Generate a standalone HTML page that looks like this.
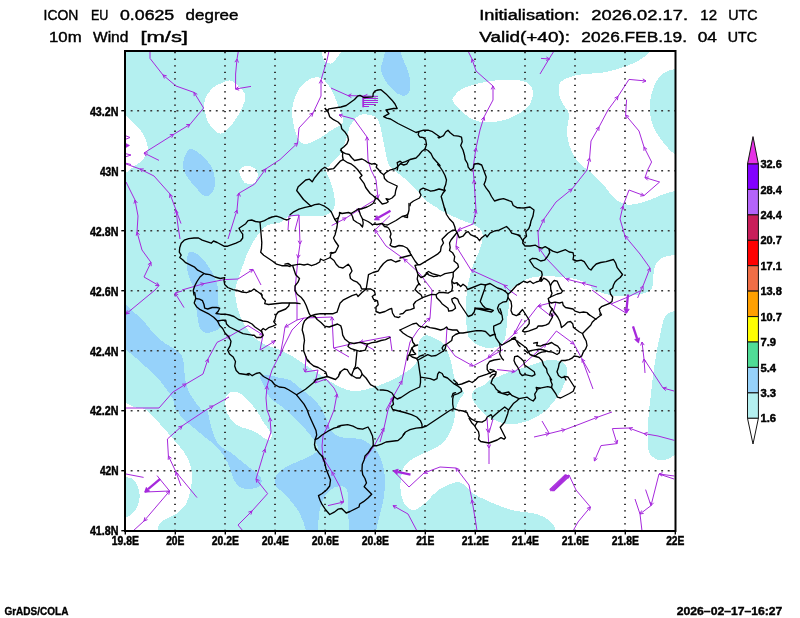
<!DOCTYPE html>
<html><head><meta charset="utf-8"><title>ICON EU 10m Wind</title>
<style>html,body{margin:0;padding:0;background:#fff;}svg{display:block;will-change:transform;opacity:0.999;}text{font-family:"Liberation Sans",sans-serif;fill:#000;}.t{font-size:14px;stroke:#000;stroke-width:0.4px;}.b{font-weight:bold;font-size:12px;stroke:#000;stroke-width:0.45px;}</style></head><body>
<svg width="800" height="618" viewBox="0 0 800 618">
<rect x="0" y="0" width="800" height="618" fill="#fff"/>
<defs><clipPath id="fr"><rect x="125" y="51" width="550.5" height="480"/></clipPath></defs>
<g clip-path="url(#fr)" shape-rendering="crispEdges">
<rect x="125" y="51" width="550.5" height="480" fill="#b4f0f0"/>
<path d="M360,115C364,113.3 370.8,114.8 374,116C377.2,117.2 377.7,119 379,122C380.3,125 381,129.3 382,134C383,138.7 383.8,144.8 385,150C386.2,155.2 387.5,161.7 389,165C390.5,168.3 391.5,167.8 394,170C396.5,172.2 401,175.3 404,178C407,180.7 409.3,183.3 412,186C414.7,188.7 417.3,191.3 420,194C422.7,196.7 425.3,199.8 428,202C430.7,204.2 434,205.7 436,207C438,208.3 437.7,208.7 440,210C442.3,211.3 446,213.2 450,215C454,216.8 459.7,219.2 464,221C468.3,222.8 473,224.2 476,226C479,227.8 481,229.3 482,232C483,234.7 482.7,238.3 482,242C481.3,245.7 479.7,249.7 478,254C476.3,258.3 473.5,263.7 472,268C470.5,272.3 469.8,276.3 469,280C468.2,283.7 467.5,285 467,290C466.5,295 466,303.3 466,310C466,316.7 466.3,325.2 467,330C467.7,334.8 467.8,336.3 470,339C472.2,341.7 476.3,344.5 480,346C483.7,347.5 488.3,348.3 492,348C495.7,347.7 499.7,346.3 502,344C504.3,341.7 505.2,338 506,334C506.8,330 506.5,324.7 507,320C507.5,315.3 508.5,310.7 509,306C509.5,301.3 509,295.3 510,292C511,288.7 513,287.7 515,286C517,284.3 519.5,283.3 522,282C524.5,280.7 526.3,279 530,278C533.7,277 539,276.2 544,276C549,275.8 554.7,276.5 560,277C565.3,277.5 571.3,277.8 576,279C580.7,280.2 585,282.2 588,284C591,285.8 591,288.3 594,290C597,291.7 601.7,292.9 606,294C610.3,295.1 615,296.2 620,296.4C625,296.6 631.3,295.7 636,295C640.7,294.3 645.3,293.2 648,292C650.7,290.8 651.2,289.7 652,288C652.8,286.3 652.7,285 653,282C653.3,279 653.3,273.3 654,270C654.7,266.7 655.3,264.2 657,262C658.7,259.8 661,258.2 664,257C667,255.8 670.7,255.5 675,255C679.3,254.5 687.5,206.5 690,254C692.5,301.5 712.2,492.3 690,540C667.8,587.7 579.3,541.5 557,540C534.7,538.5 556.8,533.8 556,531C555.2,528.2 554,525.3 552,523C550,520.7 547.3,518.7 544,517C540.7,515.3 536.7,514 532,513C527.3,512 521.3,512.2 516,511C510.7,509.8 505,507.8 500,506C495,504.2 490.3,502 486,500C481.7,498 477.3,496.3 474,494C470.7,491.7 468.7,488 466,486C463.3,484 461,482.2 458,482C455,481.8 451,483.8 448,485C445,486.2 442.3,487.5 440,489C437.7,490.5 436.7,491.5 434,494C431.3,496.5 427.3,501.3 424,504C420.7,506.7 417,509.7 414,510C411,510.3 408.2,508.7 406,506C403.8,503.3 401.8,498.7 401,494C400.2,489.3 400.3,482.8 401,478C401.7,473.2 402.8,468.3 405,465C407.2,461.7 410.8,460 414,458C417.2,456 421.2,454.3 424.5,452.8C427.8,451.3 430.5,450.6 433.5,449C436.5,447.4 439.9,445.5 442.5,443C445.1,440.5 447.3,437.5 449.2,434C451.1,430.5 452.8,425.5 453.8,422C454.8,418.5 454.7,415.8 455.2,413C455.7,410.2 456,407.8 456.8,405.5C457.6,403.2 458.6,401.6 459.8,399.5C461,397.4 463.8,395.2 463.8,393C463.8,390.8 461.3,388.2 459.8,386C458.3,383.8 456.2,382.1 455,379.5C453.8,376.9 453.6,373.8 452.8,370.5C452.1,367.2 451.3,363 450.5,360C449.7,357 448.9,354.8 448,352.5C447.1,350.2 446.3,347.9 445,346C443.7,344.1 441.8,342.3 440,341C438.2,339.7 436.3,339 434,338C431.7,337 428.3,334.7 426,335C423.7,335.3 421.3,337.8 420,340C418.7,342.2 418.3,345 418,348C417.7,351 418.7,355 418,358C417.3,361 416,363.7 414,366C412,368.3 409.3,369.8 406,372C402.7,374.2 398.3,376.8 394,379C389.7,381.2 385,383.2 380,385C375,386.8 368.7,389 364,390C359.3,391 356,391.5 352,391C348,390.5 344,388.8 340,387C336,385.2 332,382.5 328,380C324,377.5 320,374.7 316,372C312,369.3 308,366.7 304,364C300,361.3 296,358.3 292,356C288,353.7 284.3,351.8 280,350C275.7,348.2 270,346.8 266,345C262,343.2 259,341.5 256,339C253,336.5 250.3,333.2 248,330C245.7,326.8 243.7,323.3 242,320C240.3,316.7 239,313.3 238,310C237,306.7 236.5,303.3 236,300C235.5,296.7 234.7,293.3 235,290C235.3,286.7 236.8,283.7 238,280C239.2,276.3 240.5,272.3 242,268C243.5,263.7 245.2,258.3 247,254C248.8,249.7 250.8,245.7 253,242C255.2,238.3 257.5,234.8 260,232C262.5,229.2 264.7,226.6 268,225C271.3,223.4 276.7,223.7 280,222.4C283.3,221.1 284.7,218 288,217C291.3,216 294.7,216.6 300,216.4C305.3,216.2 315.3,216.4 320,216C324.7,215.6 325.8,215 328,214C330.2,213 331.8,212 333,210C334.2,208 335,205.3 335,202C335,198.7 334,194 333,190C332,186 330.2,181.3 329,178C327.8,174.7 325.8,172.2 326,170C326.2,167.8 327.7,167.7 330,165C332.3,162.3 337.3,158.2 340,154C342.7,149.8 344.3,144.7 346,140C347.7,135.3 347.7,130.2 350,126C352.3,121.8 356,116.7 360,115Z" fill="#ffffff"/>
<path d="M650,51C648.2,53.8 646.7,55 644,57C641.3,59 638.3,61 634,63C629.7,65 623.7,67.3 618,69C612.3,70.7 605.7,72.2 600,73C594.3,73.8 589,73.3 584,74C579,74.7 574,75.5 570,77C566,78.5 561.8,80.2 560,83C558.2,85.8 558.5,90.5 559,94C559.5,97.5 561.3,100.7 563,104C564.7,107.3 568.3,109.7 569,114C569.7,118.3 567,125 567,130C567,135 567.8,139.7 569,144C570.2,148.3 571.8,152.3 574,156C576.2,159.7 579.7,163.7 582,166C584.3,168.3 585.7,168 588,170C590.3,172 593,175 596,178C599,181 603,184.7 606,188C609,191.3 611,195.3 614,198C617,200.7 620.3,203 624,204C627.7,205 631.7,204.7 636,204C640.3,203.3 645.3,201.7 650,200C654.7,198.3 659.8,195.5 664,194C668.2,192.5 670.7,192 675,191C679.3,190 687.5,213.2 690,188C692.5,162.8 695.8,64.7 690,40C684.2,15.3 661.7,38.2 655,40C648.3,41.8 651.8,48.2 650,51Z" fill="#ffffff"/>
<path d="M690,66C687.5,50.8 679.3,67.8 675,69C670.7,70.2 667.2,70.8 664,73C660.8,75.2 658.2,78.2 656,82C653.8,85.8 652,91 651,96C650,101 649.7,107 650,112C650.3,117 651.3,121.7 653,126C654.7,130.3 657.5,134.3 660,138C662.5,141.7 665.5,145.3 668,148C670.5,150.7 671.3,152 675,154C678.7,156 687.5,174.7 690,160C692.5,145.3 692.5,81.2 690,66Z" fill="#b4f0f0"/>
<path d="M690,308C687.5,284.8 678.8,310 675,311C671.2,312 669,312.2 667,314C665,315.8 664.3,317.7 663,322C661.7,326.3 660.2,334.3 659,340C657.8,345.7 657,350 656,356C655,362 653.8,369.7 653,376C652.2,382.3 651.7,388.3 651,394C650.3,399.7 649.5,404 649,410C648.5,416 648.1,423.3 648,430C647.9,436.7 647.6,445.5 648.4,450C649.2,454.5 651.1,455.3 653,457C654.9,458.7 657.5,460.1 660,460.4C662.5,460.7 665.5,459.9 668,459C670.5,458.1 671.3,456.5 675,455C678.7,453.5 687.5,474.5 690,450C692.5,425.5 692.5,331.2 690,308Z" fill="#b4f0f0"/>
<path d="M472.5,393.5C472.9,392.1 472.8,390.9 474,389.8C475.2,388.6 478,387.8 480,386.8C482,385.8 484.3,384.9 486,383.8C487.7,382.6 488.1,381.1 490,380C491.9,378.9 494.5,378.2 497.5,377C500.5,375.8 504.2,373.9 508,372.5C511.8,371.1 516,370 520,368.8C524,367.5 528.2,366.2 532,365C535.8,363.8 539.5,362.1 542.5,361.2C545.5,360.4 547.5,360.3 550,360.2C552.5,360.1 555.2,360.1 557.5,360.5C559.8,360.9 562,361.6 563.5,362.8C565,363.9 565.9,365.4 566.5,367.2C567.1,369.1 567.5,371.6 567.2,374C567,376.4 565.9,379 565,381.5C564.1,384 563.2,386.5 562,389C560.8,391.5 559,394.2 557.5,396.5C556,398.8 554.8,400.4 553,402.5C551.2,404.6 549.2,407.1 547,409.2C544.8,411.4 542.2,413.5 539.5,415.2C536.8,417 533.5,418.5 530.5,419.8C527.5,421 524.5,422 521.5,422.8C518.5,423.5 515.2,424.1 512.5,424.2C509.8,424.4 507.5,424 505,423.5C502.5,423 499.9,422.1 497.5,421.2C495.1,420.4 492.4,419.2 490.5,418.2C488.6,417.2 487.8,416.6 486,415.2C484.2,413.9 481.8,411.9 480,410C478.2,408.1 476.9,406 475.5,404C474.1,402 472.2,399.8 471.8,398C471.2,396.2 472.1,394.9 472.5,393.5Z" fill="#b4f0f0"/>
<path d="M110,112C112.6,102 122,114.3 125.7,116C129.4,117.7 130.1,119.8 132.5,122C134.9,124.2 137.9,126.8 140,129.5C142.1,132.2 143.9,135.5 145.2,138.5C146.5,141.5 147.7,144.8 147.8,147.5C147.9,150.2 147.1,152.8 146,155C144.9,157.2 143.2,159.2 141.5,161C139.8,162.8 137.5,164 135.5,165.5C133.5,167 131.1,168.8 129.5,170C127.9,171.2 128.9,171.7 125.7,172.7C122.5,173.7 112.6,186.1 110,176C107.4,165.9 107.4,122 110,112Z" fill="#ffffff"/>
<path d="M232,81C235.8,82.8 243.3,89.5 245,94C246.7,98.5 243.7,103.7 242,108C240.3,112.3 237.2,116.7 235,120C232.8,123.3 231.3,125.7 229,128C226.7,130.3 223.5,133.3 221,133.6C218.5,133.9 216.2,131.9 214,130C211.8,128.1 209.5,125 208,122C206.5,119 205.7,115 205,112C204.3,109 203.7,106.8 204,104C204.3,101.2 205.3,97.8 207,95C208.7,92.2 211.5,89 214,87C216.5,85 219,84 222,83C225,82 228.2,79.2 232,81Z" fill="#ffffff"/>
<path d="M244.5,166.1C245.9,165.8 248.2,165.8 249.8,166.1C251.4,166.4 253,167.1 254.2,168C255.4,168.9 256.6,170.6 257.2,171.8C257.8,173.1 258.1,174.3 258,175.5C257.9,176.7 257.1,177.9 256.5,179.2C255.9,180.4 255.7,182.2 254.6,183C253.5,183.8 251.4,183.8 249.8,183.8C248.2,183.8 246.2,183.8 244.9,183C243.6,182.2 242.9,180.4 242.2,179.2C241.4,177.9 240.9,176.9 240.4,175.5C239.9,174.1 239,172.2 239.2,171C239.4,169.8 240.6,168.8 241.5,168C242.4,167.2 243.1,166.4 244.5,166.1Z" fill="#ffffff"/>
<path d="M316,77.1C319,76.8 321.4,77.9 323.8,79.7C326.2,81.5 328.4,85 330.3,88.1C332.2,91.2 334.1,95.3 335.5,98.5C336.9,101.7 337.6,104.7 338.7,107.5C339.8,110.3 341.2,112.9 342,115.3C342.8,117.7 343.7,120.1 343.3,121.8C342.9,123.5 341.6,124.2 339.4,125.7C337.2,127.2 333.3,128.9 330.3,130.8C327.3,132.7 324.4,135.4 321.2,137.3C318,139.2 313.9,141.4 310.9,142.5C307.9,143.6 305.3,144.5 303.1,143.8C300.9,143.2 299.4,141.4 297.9,138.6C296.4,135.8 295.1,131.1 294.1,127C293.1,122.9 292.2,118.1 292.1,114C292,109.9 292.4,106.3 293.4,102.4C294.4,98.5 295.8,94.2 297.9,90.7C299.9,87.2 302.7,84 305.7,81.7C308.7,79.4 313,77.4 316,77.1Z" fill="#ffffff"/>
<path d="M323,40C319.3,43 321.8,54.1 323,58C324.2,61.9 327.8,63.4 330,63.6C332.2,63.8 334.2,60.9 336,59C337.8,57.1 339.5,55.2 341,52C342.5,48.8 348,42 345,40C342,38 326.7,37 323,40Z" fill="#ffffff"/>
<path d="M453,98C454.3,95.7 457.5,91.5 462,89C466.5,86.5 473.7,84.5 480,83C486.3,81.5 493.3,80.4 500,80C506.7,79.6 515,79.6 520,80.4C525,81.2 527.8,82.9 530,85C532.2,87.1 533,89.8 533,93C533,96.2 532.2,100.7 530,104C527.8,107.3 524.3,110.3 520,113C515.7,115.7 509.7,118.4 504,120C498.3,121.6 491.3,122.6 486,122.4C480.7,122.2 476.3,121.1 472,119C467.7,116.9 463,112.7 460,110C457,107.3 455.2,105 454,103C452.8,101 451.7,100.3 453,98Z" fill="#ffffff"/>
<path d="M110,402C112.5,378.3 121,402.2 125,403C129,403.8 130.5,405.8 134,407C137.5,408.2 141.7,407.2 146,410C150.3,412.8 155.3,419 160,424C164.7,429 170,435.3 174,440C178,444.7 181.3,448 184,452C186.7,456 188.7,459.7 190,464C191.3,468.3 192,473.3 192,478C192,482.7 191,487.7 190,492C189,496.3 188.3,500.3 186,504C183.7,507.7 179.7,511.3 176,514C172.3,516.7 166.8,518.2 164,520C161.2,521.8 160,523.2 159,525C158,526.8 158.3,527.7 158,531C157.7,534.3 165,542.7 157,545C149,547.3 117.8,568.8 110,545C102.2,521.2 107.5,425.7 110,402Z" fill="#ffffff"/>
<path d="M110,475C112.5,467.7 121,476.2 125,477C129,477.8 131.7,477.8 134,480C136.3,482.2 138.2,486.3 139,490C139.8,493.7 139.8,498.3 139,502C138.2,505.7 136.3,509.3 134,512C131.7,514.7 129,516.5 125,518C121,519.5 112.5,528.2 110,521C107.5,513.8 107.5,482.3 110,475Z" fill="#b4f0f0"/>
<path d="M225.2,399C225.7,396.2 227.4,394.2 229,393C230.6,391.8 233,391.7 235,391.8C237,391.9 239,392.6 241,393.8C243,395 245.1,397.1 247,399C248.9,400.9 250.4,402.9 252.2,405C253.9,407.1 256,409.6 257.5,411.8C259,414.1 259.9,416.4 261.2,418.5C262.4,420.6 263.6,422.5 265,424.5C266.4,426.5 268.4,428.8 269.5,430.5C270.6,432.2 271.7,433.5 271.8,435C271.9,436.5 271.3,438.9 270.2,439.5C269.1,440.1 267,439.8 265,438.8C263,437.8 260.7,435 258.2,433.5C255.7,432 252.6,430.8 250,429.8C247.4,428.8 245,428.5 242.5,427.5C240,426.5 237.1,425.4 235,423.8C232.9,422.2 231.3,420.2 229.8,417.8C228.3,415.4 226.8,412.6 226,409.5C225.2,406.4 224.7,401.8 225.2,399Z" fill="#ffffff"/>
<path d="M190,149C192.7,148 197,151.8 200,154C203,156.2 205.8,159.3 208,162C210.2,164.7 211.8,166.7 213,170C214.2,173.3 215,178.5 215,182C215,185.5 214.5,188.6 213,191C211.5,193.4 208.5,196.6 206,196.4C203.5,196.2 201,193.1 198,190C195,186.9 190.4,181.3 188,178C185.6,174.7 184.3,173 183.6,170C182.9,167 182.5,163.5 183.6,160C184.7,156.5 187.3,150 190,149Z" fill="#96d2fa"/>
<path d="M389,40C386.5,43.3 384.3,55 383,60C381.7,65 380.7,66.7 381,70C381.3,73.3 383,76.7 385,80C387,83.3 390.2,87.4 393,90C395.8,92.6 399.3,95.1 402,95.6C404.7,96.1 407.7,95.6 409,93C410.3,90.4 410.3,84.2 410,80C409.7,75.8 408.3,71.8 407,68C405.7,64.2 403.5,61.7 402,57C400.5,52.3 400.2,42.8 398,40C395.8,37.2 391.5,36.7 389,40Z" fill="#96d2fa"/>
<path d="M190,252C192.2,251.3 197,253.7 200,256C203,258.3 205.7,262.7 208,266C210.3,269.3 212.5,273 214,276C215.5,279 216.3,281.7 217,284C217.7,286.3 217.8,287.3 218,290C218.2,292.7 217.8,296.7 218,300C218.2,303.3 218.7,305.5 219,310C219.3,314.5 220.8,323.5 220,327C219.2,330.5 216.3,330 214,331C211.7,332 208.3,333.5 206,333C203.7,332.5 201.3,330.2 200,328C198.7,325.8 198.7,323.7 198,320C197.3,316.3 196.7,311 196,306C195.3,301 194.7,293.7 194,290C193.3,286.3 193,286.7 192,284C191,281.3 188.8,278 188,274C187.2,270 186.7,263.7 187,260C187.3,256.3 187.8,252.7 190,252Z" fill="#96d2fa"/>
<path d="M110,292C112.7,286.2 121.7,301.3 126,305C130.3,308.7 132.7,310.8 136,314C139.3,317.2 142.7,320.3 146,324C149.3,327.7 152.7,332.7 156,336C159.3,339.3 162.7,341.7 166,344C169.3,346.3 173.3,348 176,350C178.7,352 180.7,353.3 182,356C183.3,358.7 183.5,362.3 184,366C184.5,369.7 184.3,374 185,378C185.7,382 186.5,386.3 188,390C189.5,393.7 191.7,396.7 194,400C196.3,403.3 199.8,408.3 202,410C204.2,411.7 205.7,408 207,410C208.3,412 208.8,417.7 210,422C211.2,426.3 212.3,432 214,436C215.7,440 217.3,443.3 220,446C222.7,448.7 226.7,449.7 230,452C233.3,454.3 236.7,457.3 240,460C243.3,462.7 247,465.7 250,468C253,470.3 256,471.8 258,474C260,476.2 262,478.8 262,481C262,483.2 260.3,485.7 258,487C255.7,488.3 251,489 248,489C245,489 242.3,488.5 240,487C237.7,485.5 235.7,483.2 234,480C232.3,476.8 231.7,472 230,468C228.3,464 226.3,459.7 224,456C221.7,452.3 219,449 216,446C213,443 209.7,441 206,438C202.3,435 198,431.3 194,428C190,424.7 184.7,421 182,418C179.3,415 179.2,411.3 178,410C176.8,408.7 175.7,411.3 175,410C174.3,408.7 174.8,404.7 174,402C173.2,399.3 171.7,396.7 170,394C168.3,391.3 166.3,389 164,386C161.7,383 159,379.2 156,376C153,372.8 149.3,370 146,367C142.7,364 139.3,360.8 136,358C132.7,355.2 130.3,353 126,350C121.7,347 112.7,349.7 110,340C107.3,330.3 107.3,297.8 110,292Z" fill="#96d2fa"/>
<path d="M260,376C260.7,374.2 264.7,374.7 268,375C271.3,375.3 276.3,377.2 280,378C283.7,378.8 286.7,378.3 290,380C293.3,381.7 296.7,385.3 300,388C303.3,390.7 307,393.3 310,396C313,398.7 316,401.7 318,404C320,406.3 320.5,407.3 322,410C323.5,412.7 325.5,416.7 327,420C328.5,423.3 328.8,427.2 331,430C333.2,432.8 335.2,435.5 340,437C344.8,438.5 355.3,438 360,439C364.7,440 365.3,441.2 368,443C370.7,444.8 373.7,446.8 376,450C378.3,453.2 380.5,457.3 382,462C383.5,466.7 384.7,472.3 385,478C385.3,483.7 384.8,490 384,496C383.2,502 381.3,508.2 380,514C378.7,519.8 376.8,525.8 376,531C375.2,536.2 379.3,542.7 375,545C370.7,547.3 354.3,547.3 350,545C345.7,542.7 349.3,537.5 349,531C348.7,524.5 348.3,512.8 348,506C347.7,499.2 348.3,493.3 347,490C345.7,486.7 342.8,486 340,486C337.2,486 332.8,487.7 330,490C327.2,492.3 324.8,496 323,500C321.2,504 319.8,508.8 319,514C318.2,519.2 318.3,525.8 318,531C317.7,536.2 318.8,542.7 317,545C315.2,547.3 308.8,547.3 307,545C305.2,542.7 307.2,536.2 306,531C304.8,525.8 302.7,519.2 300,514C297.3,508.8 293.3,504 290,500C286.7,496 282.3,492.3 280,490C277.7,487.7 276.8,488 276,486C275.2,484 274.3,480.5 275,478C275.7,475.5 277.2,473.3 280,471C282.8,468.7 287.7,466.2 292,464C296.3,461.8 301.7,460.3 306,458C310.3,455.7 316.7,453 318,450C319.3,447 316,443.3 314,440C312,436.7 309,433.3 306,430C303,426.7 299.3,423.3 296,420C292.7,416.7 289,412.7 286,410C283,407.3 280.7,406 278,404C275.3,402 272.3,401 270,398C267.7,395 265.7,389.7 264,386C262.3,382.3 259.3,377.8 260,376Z" fill="#96d2fa"/>
</g>
<g stroke="#383838" stroke-width="2" stroke-dasharray="1.3 5.245" fill="none">
<path d="M175,52.05 V531"/>
<path d="M225,52.05 V531"/>
<path d="M275,52.05 V531"/>
<path d="M325,52.05 V531"/>
<path d="M375,52.05 V531"/>
<path d="M425,52.05 V531"/>
<path d="M475,52.05 V531"/>
<path d="M525,52.05 V531"/>
<path d="M575,52.05 V531"/>
<path d="M625,52.05 V531"/>
</g>
<g stroke="#383838" stroke-width="1.6" stroke-dasharray="1.9 4.65" fill="none">
<path d="M130.65,110.7 H675.5"/>
<path d="M130.65,170.7 H675.5"/>
<path d="M130.65,230.7 H675.5"/>
<path d="M130.65,290.7 H675.5"/>
<path d="M130.65,350.7 H675.5"/>
<path d="M130.65,410.7 H675.5"/>
<path d="M130.65,470.7 H675.5"/>
</g>
<g clip-path="url(#fr)" stroke="#a628dc" stroke-width="1" fill="none" stroke-linejoin="round">
<path d="M150,51L150,58.4L163,75L176,86L194,92.4L203.6,108L190,124.4L173.6,134.4L144,153L159,160.4"/>
<path d="M238.4,51L237,59L235.6,74L235.6,89L251,86.4"/>
<path d="M329,51L327,60L321,80L321,96L313,113L299,128L297.6,143L280,159.6L265.9,168.8L254.6,184.1L238.5,193.5L237,210L228,239"/>
<path d="M331,88L348,95.6L364,96L378,96.4"/>
<path d="M339,115L354,119L367,137L368,160L371,170L376,180L378,198L360,209L346,218L331.6,225.6"/>
<path d="M468,51L472,59L476,71L493,86L493,100L484,117L480,130L476,148L473,168L474,180L476,210L473,224L458,230L456,246L471,270L504,285L509,290L517,295.6"/>
<path d="M554,51L549,59L540,74"/>
<path d="M541,58.4L549.6,59"/>
<path d="M646,81L629,79.4L618,96.4L608,110L599,127L591,141L589.6,158L587,170L572,189L556,202L544,219L538,232L539,248L546,258L566,279L582,283L597,287"/>
<path d="M626.6,99.6L625.6,115L639,131L644,147L651.6,162L647.6,170L645,177.6L659.6,182L644,195.6L629,190L623,206L620,219L625,236L640,254L650,268L643,286L641,290L637.6,298"/>
<path d="M126,182L135,200L138,216L137,232L142,250L151,262.4L144,277L159,285.6L155,290L126,314"/>
<path d="M126,164L140,169L154,176L170,194L176,210L178,226L180,239"/>
<path d="M176,210L181,223.6"/>
<path d="M125,135.5L130,137.5L125,139.5"/>
<path d="M125,153.5L131,155L125,157"/>
<path d="M125,163L131,164.5"/>
<path d="M182,290L204,283.6L224,279.6L238,279L253,269.4L261,285"/>
<path d="M390,215.6L375,230L386,246L404,259L420,274L432,290L430,318L418,330L410,342L407,356L402,381L393,397L388,410L384,428L374,446L364,460"/>
<path d="M384,428L380,442"/>
<path d="M393,397L386,410"/>
<path d="M288,230L289,216L299,215L295,230"/>
<path d="M299,215L300,244L298,258L295,290L297,302L297,320L285,327L283,340L280,356"/>
<path d="M297,320L304,318L332,317L333.6,348L349,357"/>
<path d="M333.6,348L360,342L390,336.4L392,351"/>
<path d="M360,342L374,350"/>
<path d="M304,318L292,330L284,346L280,356"/>
<path d="M175,293L184,307.6"/>
<path d="M175,293L182,291"/>
<path d="M126,408L159,408L173,392L186,384L203,374L208,359L217,342.4L230,336L248,325.6L263,335L260,350L275,341"/>
<path d="M229,397L213,406L206,410L182,426L167.4,439L168.4,456L176,472L181,486"/>
<path d="M176,472L197,497.6"/>
<path d="M280,354L272,370L267,386L266,398L267,410L270,418L271,432L265,449L256,479L267.6,493.6L252,511L238,525L243,531"/>
<path d="M306,356L305,372L318,370L315,383L326,379L334,388L337,394L334,410L328,425L323,436L322,446L323,458L332,472L340,487L343.6,502L328,505.6"/>
<path d="M447,327L446,344L455,356L473,366L488,358L514,334L528,319L538,306L550,303L556,302.4L552,317L538,306"/>
<path d="M522,319L514,334"/>
<path d="M488,358L503,349.6"/>
<path d="M497,369.6L515,371.6L546,344L556.4,331L574,344L582,359L593,389"/>
<path d="M582,359L590,373"/>
<path d="M592,290L611,304L626,313"/>
<path d="M611,304L628,297L640,291"/>
<path d="M642,342L644,359L645,373"/>
<path d="M644,359L663,388L674,391"/>
<path d="M126,474L143.6,477.4"/>
<path d="M157,475.6L169.6,491L145,492"/>
<path d="M169.6,491L144,521L133,531"/>
<path d="M393.6,471L409,487L424,473L440,467L456,468L469,485L472,500L476,524L477,531"/>
<path d="M393,505.6L408,514L417,531"/>
<path d="M487,418L488,432L489,448L489,464"/>
<path d="M493,419L489,433"/>
<path d="M534,437L549,433.6L565,429.6L580,424L598,417L612,412"/>
<path d="M542,421L549.6,434"/>
<path d="M674.4,440.4L658,436L644,433.6L629,428L612.4,428.6L617,443.6L601,445.6L594.4,461"/>
<path d="M569,475L576,490L590.4,507L578,522L573,531"/>
<path d="M674.4,476L659,474L651,505.6L640,514L642,531"/>
<path d="M674,479L659,474"/>
<path d="M645.6,489.6L651,505.6"/>
<path d="M635,499L640,514"/>
<path d="M362.5,98.5 L378.2,98.5" stroke-width="1" shape-rendering="crispEdges"/>
<path d="M362.5,100.5 L378,100.5" stroke-width="1" shape-rendering="crispEdges"/>
<path d="M362.5,102.5 L378.2,102.5" stroke-width="1" shape-rendering="crispEdges"/>
<path d="M362.5,104.5 L375,104.5" stroke-width="1" shape-rendering="crispEdges"/>
<path d="M362.5,106.5 L369,106.5" stroke-width="1" shape-rendering="crispEdges"/>
<path d="M549.6,489.6 L565.6,474.4" stroke-width="1.05"/>
<path d="M550.2,490.2 L566.4,474.6" stroke-width="1.05"/>
<path d="M550.4,491 L567.2,475" stroke-width="1.05"/>
<path d="M551.6,491 L568,475.4" stroke-width="1.05"/>
<path d="M552.6,491.2 L568.6,476" stroke-width="1.05"/>
<path d="M553.6,491.2 L569,476.6" stroke-width="1.05"/>
<path d="M363.2,96L363.2,107.3" stroke-width="1.8"/>
<path d="M390.5,210.8 L378.2,217.7" stroke-width="2.3"/>
<path d="M374.2,220 L376.9,215.4 L379.5,220.1 Z" fill="#a628dc" stroke-width="0.6"/>
<path d="M628,294.5 L626.6,308.9" stroke-width="2.3"/>
<path d="M626.2,313.5 L623.9,308.7 L629.3,309.2 Z" fill="#a628dc" stroke-width="0.6"/>
<path d="M633,326.4 L637.1,338.6" stroke-width="2.3"/>
<path d="M638.6,343 L634.6,339.5 L639.7,337.8 Z" fill="#a628dc" stroke-width="0.6"/>
<path d="M160.2,478.8 L148.1,489.2" stroke-width="2.3"/>
<path d="M144.6,492.2 L146.3,487.2 L149.8,491.3 Z" fill="#a628dc" stroke-width="0.6"/>
<path d="M410.5,474.6 L397.7,471.8" stroke-width="2.3"/>
<path d="M393.2,470.8 L398.3,469.1 L397.1,474.4 Z" fill="#a628dc" stroke-width="0.6"/>
<path d="M124.5,142.8L129.6,145.4L124.5,148.4Z" fill="#a628dc" stroke-width="0.6"/>
<path d="M166.7,75.8 L163,75 L164.4,78.5"/>
<path d="M197.3,94.3 L194,92.4 L194.2,96.2"/>
<path d="M188.1,127.7 L190,124.4 L186.2,124.6"/>
<path d="M171.7,137.7 L173.6,134.4 L169.8,134.7"/>
<path d="M147.8,152.9 L144,153 L146.2,156.1"/>
<path d="M238.5,62.5 L237,59 L234.9,62.2"/>
<path d="M238.6,86.7 L235.6,89 L239.2,90.2"/>
<path d="M322.8,83.4 L321,80 L319.2,83.4"/>
<path d="M312,116.7 L313,113 L309.4,114.2"/>
<path d="M296.4,146.6 L297.6,143 L293.9,144"/>
<path d="M265.3,172.6 L265.9,168.8 L262.5,170.4"/>
<path d="M240.4,196.5 L239,193 L236.8,196.1"/>
<path d="M237.7,213.7 L237,210 L234.3,212.7"/>
<path d="M351.4,93.9 L348,95.6 L351.3,97.5"/>
<path d="M367.4,94.3 L364,96 L367.3,97.9"/>
<path d="M342.7,114.1 L339,115 L341.8,117.6"/>
<path d="M368.9,140.3 L367,137 L365.4,140.4"/>
<path d="M375.9,194.9 L378,198 L379.4,194.5"/>
<path d="M358.1,212.3 L360,209 L356.2,209.3"/>
<path d="M343.9,221.1 L346,218 L342.2,218"/>
<path d="M474.8,61.6 L472,59 L471.4,62.7"/>
<path d="M494.8,89.4 L493,86 L491.2,89.4"/>
<path d="M484.7,120.7 L484,117 L481.3,119.7"/>
<path d="M477.3,151.6 L476,148 L473.7,151.1"/>
<path d="M476,183.2 L474,180 L472.4,183.5"/>
<path d="M477,213.7 L476,210 L473.6,212.9"/>
<path d="M460.5,227.1 L458,230 L461.8,230.4"/>
<path d="M459.3,247.9 L456,246 L456.3,249.8"/>
<path d="M474.8,269.8 L471,270 L473.3,273"/>
<path d="M507.7,285.7 L504,285 L505.5,288.5"/>
<path d="M546.1,60.5 L549.6,59 L546.4,57"/>
<path d="M642.5,82.5 L646,81 L642.8,78.9"/>
<path d="M617.4,100.2 L618,96.4 L614.6,98"/>
<path d="M598.9,130.8 L599,127 L595.8,129"/>
<path d="M590.6,161.7 L589.6,158 L587.1,160.9"/>
<path d="M570.5,192.5 L572,189 L568.3,189.7"/>
<path d="M544.2,222.8 L544,219 L541,221.3"/>
<path d="M542.4,249.7 L539,248 L539.5,251.8"/>
<path d="M569.7,278.1 L566,279 L568.8,281.5"/>
<path d="M585.7,282.1 L582,283 L584.8,285.6"/>
<path d="M629.1,116.4 L625.6,115 L626.4,118.7"/>
<path d="M647.1,149.2 L644,147 L643.9,150.8"/>
<path d="M648.7,176.9 L645,177.6 L647.7,180.3"/>
<path d="M640.2,196.1 L644,195.6 L641.5,192.8"/>
<path d="M624,209.7 L623,206 L620.5,208.9"/>
<path d="M628.5,237.4 L625,236 L625.8,239.7"/>
<path d="M650.4,271.8 L650,268 L647.1,270.5"/>
<path d="M643.3,289.8 L643,286 L640,288.3"/>
<path d="M137.4,203 L135,200 L133.9,203.6"/>
<path d="M139.6,234.8 L137,232 L136.2,235.7"/>
<path d="M151.2,266.2 L151,262.4 L147.9,264.7"/>
<path d="M155.2,285.5 L159,285.6 L157,282.4"/>
<path d="M127.4,310.5 L126,314 L129.7,313.2"/>
<path d="M143.8,168.9 L140,169 L142.2,172.1"/>
<path d="M172.8,196.5 L170,194 L169.5,197.8"/>
<path d="M178.2,213.1 L176,210 L174.6,213.6"/>
<path d="M201.3,286.3 L204,283.6 L200.3,282.8"/>
<path d="M251.1,272.7 L253,269.4 L249.2,269.7"/>
<path d="M378.4,231.8 L375,230 L375.4,233.8"/>
<path d="M407.7,260 L404,259 L405.2,262.6"/>
<path d="M428.9,321.6 L430,318 L426.4,319.1"/>
<path d="M401.9,384.8 L402,381 L398.8,383"/>
<path d="M393.5,400.8 L393,397 L390.1,399.5"/>
<path d="M383.9,431.8 L384,428 L380.8,430.1"/>
<path d="M298.1,240.7 L300,244 L301.7,240.6"/>
<path d="M296.7,254.4 L298,258 L300.2,254.9"/>
<path d="M287,323.8 L285,327 L288.8,326.9"/>
<path d="M334,320.3 L332,317 L330.4,320.4"/>
<path d="M363,339.6 L360,342 L363.6,343.1"/>
<path d="M178.3,294.9 L175,293 L175.2,296.8"/>
<path d="M184.1,387.3 L186,384 L182.2,384.2"/>
<path d="M208.6,362.7 L208,359 L205.2,361.6"/>
<path d="M227.8,339.1 L230,336 L226.2,335.9"/>
<path d="M259.2,334.7 L263,335 L261.1,331.7"/>
<path d="M273,344.3 L275,341 L271.2,341.2"/>
<path d="M211,409.2 L213,406 L209.2,406.1"/>
<path d="M180.7,429.6 L182,426 L178.3,426.9"/>
<path d="M171.5,458.3 L168.4,456 L168.2,459.8"/>
<path d="M178.8,474.6 L176,472 L175.4,475.8"/>
<path d="M268.5,389.5 L267,386 L264.9,389.2"/>
<path d="M272,421.2 L270,418 L268.5,421.5"/>
<path d="M265.7,452.7 L265,449 L262.3,451.7"/>
<path d="M259.5,480.5 L256,479 L256.7,482.7"/>
<path d="M250.9,514.6 L252,511 L248.4,512.1"/>
<path d="M303.4,368.5 L305,372 L307,368.8"/>
<path d="M314,379.3 L315,383 L317.5,380.1"/>
<path d="M338.1,397.6 L337,394 L334.6,397"/>
<path d="M328.2,428.8 L328,425 L325,427.3"/>
<path d="M326.3,459.9 L323,458 L323.3,461.8"/>
<path d="M335.2,474.1 L332,472 L332,475.8"/>
<path d="M340.7,504.5 L343.6,502 L339.9,501"/>
<path d="M469.2,365.9 L473,366 L470.9,362.8"/>
<path d="M489.3,354.4 L488,358 L491.7,357"/>
<path d="M515,330.3 L514,334 L517.6,332.8"/>
<path d="M540.8,303.5 L538,306 L541.7,306.9"/>
<path d="M551.2,313.3 L552,317 L554.6,314.2"/>
<path d="M511.5,373 L515,371.6 L511.9,369.5"/>
<path d="M544.7,347.6 L546,344 L542.3,344.9"/>
<path d="M570.2,343.4 L574,344 L572.4,340.6"/>
<path d="M585.2,361 L582,359 L582.1,362.8"/>
<path d="M644.2,345.1 L642,342 L640.6,345.5"/>
<path d="M646,362.2 L644,359 L642.5,362.5"/>
<path d="M666.7,387.2 L663,388 L665.8,390.6"/>
<path d="M168.8,494.7 L169.6,491 L166.1,492.4"/>
<path d="M144.8,517.3 L144,521 L147.5,519.6"/>
<path d="M146.4,488.5 L145,492 L148.7,491.2"/>
<path d="M397.2,469.9 L393.6,471 L396.5,473.4"/>
<path d="M426.5,470.2 L424,473 L427.8,473.5"/>
<path d="M459.5,469.6 L456,468 L456.6,471.7"/>
<path d="M474.3,503 L472,500 L470.8,503.6"/>
<path d="M396.8,505.7 L393,505.6 L395.1,508.8"/>
<path d="M486,428.8 L488,432 L489.5,428.5"/>
<path d="M487,444.8 L489,448 L490.6,444.5"/>
<path d="M546.1,436.1 L549,433.6 L545.3,432.6"/>
<path d="M562.2,432.1 L565,429.6 L561.3,428.7"/>
<path d="M595.5,419.9 L598,417 L594.2,416.6"/>
<path d="M647.6,432.4 L644,433.6 L647,435.9"/>
<path d="M632.8,427.5 L629,428 L631.5,430.8"/>
<path d="M614.3,440.9 L617,443.6 L617.7,439.9"/>
<path d="M594.1,457.2 L594.4,461 L597.4,458.6"/>
<path d="M589.6,510.7 L590.4,507 L586.9,508.4"/>
<path d="M568,478.7 L569,475 L565.4,476.2"/>
<path d="M662.6,472.7 L659,474 L662.1,476.2"/>
<path d="M650.1,501.9 L651,505.6 L653.6,502.8"/>
<path d="M641.6,510.5 L640,514 L643.7,513.4"/>
<path d="M625,309.5 L626.5,313 L628.6,309.8"/>
<path d="M635.6,339.8 L638.4,342.4 L639,338.7"/>
</g>
<g clip-path="url(#fr)" stroke="#000" stroke-width="1.35" fill="none" stroke-linejoin="round" stroke-linecap="round">
<path d="M338,218.5L339.5,215L339.5,212.5L342,213.5L348.5,212.5L351,213.5L358.5,209L361,209L367,207L370,205.5L373,203.5L374.5,201L375.5,198"/>
<path d="M351,213.5L352.5,216.5L353.5,220L357,222.5L360,224L362.5,227L363.2,223L362.5,219L360.5,215L358.5,209"/>
<path d="M362.5,219L368,221.5L371,223.5L372.5,225L374,224L377,224.5L382,223.5L384.5,226.5L387,227L388.5,228L390,230.5L391,234L390,237L391.5,240L391,243L390,245L392,246.5L395,247L399,245.5L403,246L407,248L410,252"/>
<path d="M382,223.5L384.5,224.7L387.5,225L396,220.5L402,216.5L406,215.5L408,214L409,210L409,203.5"/>
<path d="M338,218.5L337,227L335,235L333.5,238L335,241L338.5,246L335.5,252L333,253L331,252.5L330,253"/>
<path d="M325.2,108.5L326.7,111L329,108.8L341,107L346.2,105.5L354.5,99.5L357.5,96.2L360,95.4L363.9,97.5L372.9,96.8L373.2,93.5L375,90.9L378,90L381,89.7L386,93.9L392,100.2L395,104L397.2,108.5L393.5,108.5L386,110L389,113.7L383.7,116.7L386.7,118.2L390.5,119L398,123.5L416,132.5L423.5,130.2L428,130.2L432.5,131.7L440,137"/>
<path d="M419,131.7L418.2,134.7L419.7,137L423.5,137.7L425.7,140L426.5,144.5L425,149L428,150.5L431,153.5L433.2,158L440,165.5"/>
<path d="M425,149L422,151.2L419,155L416,158L410,159.5L405.5,161.7L401,163.2L398,166.2L397.2,170"/>
<path d="M325.2,108.5L328.2,112.2L329.7,116.7L333.5,119.7L338,122L341,125L341.7,128.7L344.7,131.7L347.7,136.2L348.5,140L347,143.7L344,146.7L341,149L341.7,152"/>
<path d="M290,214.8L293.7,211.8L299,209.2L305,207.3L311,206.2L303.5,199.5L296.7,190.5L298.2,186.7L305.7,180L309.5,179.2L312.2,181.8L314.7,177.7L321.5,169.5L324.8,167.2L328.2,169.5L333.5,168.7L340.2,161.2L343.2,159.7L342.5,156L342.8,152.2L340.5,150.3"/>
<path d="M311,206.2L314.7,204.7L319.2,204L324.5,206.2L328.2,208.8L331.2,211.8L334.7,219.3L336.8,222L336.9,222.8"/>
<path d="M334.7,219.3L338,218.2L338.1,217.8"/>
<path d="M343.2,159.7L347.7,162.7L351.5,164.2L354.5,166.5L357.5,169.5L362,175.5L359.7,177.7L364.2,183.7L365.7,187.5L370.2,193.5L373.2,195.7L375.5,198L377.7,198.7"/>
<path d="M342.5,152.2L345.5,153.7L349.2,154.5L351.5,157.5L354.5,160.5L362,159L365,160.5L368,162.7L371.7,164.2L374.7,163.5L377,165L376.2,167.2L378.5,169.5L380.7,172.5L383.7,174.7L386,172.5L389.7,170.2L395,168.7L397.3,167"/>
<path d="M397.9,166.1L397.2,162.7L400.2,161.2L401.5,162.2"/>
<path d="M383.7,174.7L384.5,178.5L387.5,181.5L397.2,186L395.7,190.5L395,195L392,198L389,199.5L386,198.7L388.2,201.7L386,203.2L382.2,204L377.7,198.7"/>
<path d="M290,218.5L287,220L284,219.2L281,217.7L276.5,216.2L272,217L268.2,218.5L264.5,220.7L260,222.2L255.5,221.5L251.7,220L248,220.7L245.7,223.7L239,228.2L240.5,231.2L242.7,234.2L242.7,238L240.5,241L236,243.2L227.7,246.2L224,246.2L217.2,242.5L213.5,241L211.2,243.2L202.2,240.2L198.5,238L194,238L188.7,238.7L184.2,240.2L181.2,243.2L179.7,247.7L179.3,252.2L181.2,255.2L179.7,257.5L182.7,259.7L185.7,262.7L194.7,267.2L197.7,270.2L205.2,274L209.7,274.7L215,277L220.2,278.5L224.7,277.7L224,280.7L224.7,284.5L227.7,287.5L233,289.7L237.5,290.5L242,292L246.5,292.7L251,291.2L254,289L262.2,295"/>
<path d="M203.7,273.7L200,277L197,281.5L194.7,286L193.2,290.5L194,295"/>
<path d="M260,222.2L261.8,242.5L261.5,248.5L260.7,252.2L263.7,255.2L272.7,261.2L276.5,264.2L281.7,265.7L287,265.7L290,266.5"/>
<path d="M194.7,292.4L195.7,298.5L194.2,303L196.5,306.7L200.2,309.7L209.2,314.2L213.7,317.2L217.5,321L219.7,325.5L222.7,328.5L225,333L228.7,336.7L231,341.2L230.2,345.7L227.7,350.2L229.5,354L233.2,357L235.5,361.5L234.7,366L236.2,370.5L239.2,373.5L249,375"/>
<path d="M195.7,298.5L199.5,299.2L202.5,300.7L204,304.5L204.7,308.2L207.7,309L212.2,307.5L216.7,307.5L219.7,308.2L218.2,311.2L216,313.5L220.5,314.2L225,314.2L229.5,315L234,316.5L238.5,319.5L243,321L247.5,321.7L252,324L255,327L261.7,331.5L263.2,335.2L261,337.5L256.5,337.5L254.2,335.2L252,335.2L243,333.7L229.5,327L226.5,324L225.7,320.2L222.7,320.2L217.5,321"/>
<path d="M261,293.2L262.5,297.7L265.5,300.7L264.7,303.7L268.5,304.5L282,303L295.5,303L300,303.7"/>
<path d="M289.5,303.3L288.7,306L285.7,309L278.2,312L276,315L275.2,318.7L273.7,321.7L276,324.7L273,326.2L268.5,327.7L265.5,330L263.2,328.5L261,330.7L261.7,331.5"/>
<path d="M247.2,373.8L249.2,373.5L252.2,375.7L256,373.5L259.7,372.7L263.5,376.5L271.7,381L274.7,384.7L279.2,387L284.5,387.7L289,390L296.5,394.8L304,404.2L307,409.5L309.2,415.5L316,430.5L316.7,435L315.2,439.5L314.5,444.7L316,450"/>
<path d="M296.5,394.8L305.5,389.2L313.7,382.5L316,379.5L327.2,376.5L335.5,379.5L338.5,376.5L340,372"/>
<path d="M307.7,360L310,363L313.7,366L318.2,367.5L325.7,372L327.2,376.5"/>
<path d="M315.2,439.5L317.5,438.7L322,435L328,431.2L334,428.2L340,426.7"/>
<path d="M284.9,264.1L288.2,263.5L290.9,265.5"/>
<path d="M288.9,264L291.2,265.7L299.5,264.2L304,265L307.7,264.2L311.5,265.7L316,264.2L319.7,262L320.5,259L323.5,260.5L330.2,257.5L331,253.7L332.5,252.8"/>
<path d="M330.2,257.5L334,260.5L336.2,264.2L339.2,267.2L343,268L348.2,264.2L350.5,267.2L352,271L349.7,274.7L350.5,278.5L353.5,280.7L357.2,282.2L360.2,285.2L361.7,289L366.2,289L368.5,274.7L373,272.5L378.2,271L380.5,267.2L383.5,263.5L387.2,260.5L391,259.7L395.5,262L400,260.5"/>
<path d="M366.2,289L370.7,289L374.5,291.2L375.2,294.2L372.2,296.5L373.7,299.5L377.5,301L378.2,304.7L376,307L376,311.5L379.7,313L385,311.5L389.5,309.2L391.7,308.5L392.5,313L394.7,316.7L398.5,317.5L400,316.7"/>
<path d="M366.2,289L361.7,292.7L358,296.5L356.5,294.2L352,295.7L343,300.2L340,303.2L337,312.2L333.2,313.7L320.5,313.7L315.2,314.5L310.7,316"/>
<path d="M292.7,265.7L295.7,274.7L299.5,278.5L298,282.2L295,286L295,290.5L297.2,294.2L301,297.2L304,301L306.2,305.5L309.2,313.7L310.7,316"/>
<path d="M310.8,316L307.2,318.3"/>
<path d="M310.8,316L307.5,318L304.5,321L303,324.7L302.2,330L303.7,335.2L304.5,340.5L303.7,345.7L303.7,351L307.5,360.7L309.2,362.1"/>
<path d="M312.9,316.2L315,316.5L317.2,319.5L321,322.5L324.7,326.2L329.2,327L337.5,324L340.8,325.8L342,330L342.7,335.2L345,339.3L349.5,342.7L354,343.5L360,342.4L367.5,344.2L372,342.7L376.5,342L381,340.5L385.5,339.7L390,337.5"/>
<path d="M349.5,342.7L348,346.5L351,348.7L360,351.3L365.2,350.2L367.5,344.2"/>
<path d="M357,351L355.5,366L352.5,372.7L351.7,375.7L349.5,373.5L347.2,369.7L344.2,369L341.2,371.2L339.2,374.6"/>
<path d="M354,369L357.7,367.5L360.7,370.5L362.2,374.2L360,378L356.2,378L352.5,375.7"/>
<path d="M362.2,374.2L366,378L370.5,384.7L375,387L378,390"/>
<path d="M438.1,137.2L439,138L443.5,135.7L445.7,132L448,130.2L450.2,132.7L454,135.7L458.5,136.2L461.5,137.2L462.2,141.7L460.7,145.5L463,150L464.5,155.2L465.2,159.7L467.5,163.5L468.2,167.2L470.5,170.2L473.5,168L474.2,164.2L478,163.5L481.7,165L486.2,177L485.5,180.7L484,184.5L486.2,188.2L489.2,192L491.5,196.5L494.5,201L499,199.5L503.5,198.7L511.7,201.7L513.2,205.5L517,207.7L520,207.7"/>
<path d="M409,160.5L406.7,164.2L403.7,165L400.4,163.7"/>
<path d="M437.7,164.5L439.7,166.5L442.7,171L445,175.5L446.5,180L445.7,184.5L444.2,188.2L445,190.5L439,189L434.5,190.5L430.7,191.2L423.2,188.2L420.2,189.7L419.5,192L421,195L419.5,198L413.5,201L410.5,203.2L410,205.7"/>
<path d="M445,190.5L442.7,193.5L441.2,196.5L445,210"/>
<path d="M444.5,207.6L446.5,214.5L449.5,219L453.2,222.7L454.7,226.5L455.5,230.2L457.7,234L459.2,237.7L463,236.2L466,232.5L468.2,231.7L470.5,234.7L477.2,237.7L479.5,240.7L481.7,237.7L485.5,234.7L487,237L490,233.2L494.5,231L499,230.2L506.5,226.5L509.5,229.5L511.7,233.2L520,235.5"/>
<path d="M407.5,214.1L407.5,217.5L404.2,216.9"/>
<path d="M455.5,230.2L452.5,230.2L448,233.2L442,239.2L443.5,243L441.2,246.7L440.5,251.2L437.5,254.2L420.2,264.7L418,264.7"/>
<path d="M457,232.5L451,240L449.5,243L450.2,247.5L449.5,250.5L452.5,252.7L454.7,256.5L454,261L457.7,264L458.5,267L453.2,272.2L445,273.7L440.5,276L432.2,273.7L428.5,271.5L426.2,273"/>
<path d="M408.5,250.5L415,261L418,264.7L415,265.5L418,274.5L417.2,279L418.7,283.5L420.2,285"/>
<path d="M400,258L411.2,255"/>
<path d="M453.2,272.2L453.2,276.7L451.7,281.2L454,283.5L457,282.7L457.7,285"/>
<path d="M418.3,274.8L421,277.5L424.7,276L427,273L427.9,273.9"/>
<path d="M426.2,274L427,273L429.2,275.2L433.7,276.7L437.8,276.1"/>
<path d="M419.3,283.6L417.2,285.7L415,289.5L418,292.5L421,294.7L422.5,297.7L415.7,301.5L413.5,304.5L414.2,308.2L410.5,309.7L406,310.5L403,313.5L400,314.2"/>
<path d="M422.5,297.7L431.5,294.3L436,294.7L439,292.5L443.5,292.5L448,293.2L451.7,291L452.5,287.2L451.9,282.3"/>
<path d="M436,294.7L436.7,297.7L439.7,300.7L442,303.7L448,308.2L448.7,311.2L452.5,310.5L455.5,308.2L454.7,305.2L452.5,302.2L451.7,299.2L454.7,297.7L457.7,299.2L459.2,303L468.2,316.5L472,315L474.2,312L475,309"/>
<path d="M475,308.7L479.5,309.3L491.5,312L493.3,310.5L490,309.3L485.5,309.3L481,308.5L475.7,308.2L475,308.7"/>
<path d="M457.4,283.2L460.7,286.5L463,284.2L466,286.5L467.5,289.5L481,284.2L485.5,285L490,283.5L497.5,288L502,289.5L505.7,291.7L508,294L510.2,292.5L517,285L520,283.5"/>
<path d="M485.5,285L484.7,288.7L480.2,301.5L482.5,305.2L485.5,308.2L490,309.3"/>
<path d="M508,294L508,297.7L506.5,301.5L502.7,302.2L499,304.5L497.5,308.2L499,312L502,315L502.7,319.5L500.5,323.2L493.7,326.2L493.7,330L496,338.2L499.7,343.5L502,345L514,338.2L516.2,340.5L518.5,345L520,346.5"/>
<path d="M508,297.7L511,301.5L511.7,306L511,310.5L512.5,314.2L516.2,315.7L520,314.2"/>
<path d="M400,330L412.7,324L416.5,323.2L419.5,326.2L424.7,327.7L426.2,326.2L430,327.7L435.2,328.5L440.5,330L443.5,329.2L446.5,327L448,329.2L452.5,330L457,330L459.2,333L455.5,334.5L452.5,336.7L451.7,340.5L446.5,344.2L443.5,345.7L442,348L443.5,351L436,355.5L431.5,356.2L427.7,354.7L418,360"/>
<path d="M459.2,333L463,333L476.5,330.7L481,330.7L485.5,331.5L490,336L493.7,334.5L495.2,334.5"/>
<path d="M400,330L403,333L407.5,336L412,338.2L412.7,342L415,345L412,348L413.5,351.7L415.7,354L408.2,355.5L407.5,360"/>
<path d="M499.7,343.5L500.5,349.5L499.7,354L502,358.5L503.5,360"/>
<path d="M530.2,225L528.7,228.7L525.7,231.7L526.5,236.2L523.5,239.2L522.7,243L525,246L530.2,246L535.5,245.2L539.2,247.5L542.2,248.2L545.2,246.7L552.7,251.2L557.2,252.7L565.5,249.7L569.2,252L573,252.7L573.7,255.7L573,259.5L576.7,261L581.2,260.2L584.2,261.7L588.7,268.5L591,270L593.2,267L596.2,264L600.7,262.5L606,261.7L613.5,259.5L615.7,263.2L617.2,267.7L622.5,274.5L620.2,277.5L617.2,279.7L615,282L613.5,285L612.7,288L609.7,290.2L610.5,294L612.7,297L612,301.5L609,303.7L601.5,306.7L599.2,309L600,312L601.5,315"/>
<path d="M518.2,235.2L520.5,237L523.2,241.5"/>
<path d="M549,249L549.7,252.7L547.5,256.5L544.5,260.2L540.7,261L536.2,258.7L532.5,258.3L529.5,260.2L534,267L541.5,271.5L542.2,274.5L540.7,281.2"/>
<path d="M518,284.9L523.5,281.2L527.2,282.7L530.2,281.2L533.2,283.5L536.2,282L539.2,281.2L540.7,277.5L541.5,281.2L543.7,278.2L546.7,279.7L549,282L550.5,285.7L552,282.7L554.2,280.5L557.2,281.2L560.2,288L562.5,291L561,293.2L557.2,294L550.5,297L548.2,298.5L549,301.5L551.2,303L555,302.2L559.5,303L562.5,302.2L563.2,305.2L565.5,307.5L573,309L575.2,311.2L579.7,312.7L583.5,312L587.2,312.7L589.5,315"/>
<path d="M550.5,285.7L550.8,289.5L552,293.2L550.5,297"/>
<path d="M549,301.5L549.7,306L552,309L550.5,312L549.7,315"/>
<path d="M599.8,314L600.5,315.5L594.5,320L592.2,322.2L590.7,325.2L582.5,333.5L584,337.2L586.2,341L587,345.5L585.5,349.2L583.2,352.2L581.7,356L579.5,357.5L578,356.7L574.2,356L572,358.2L569,359.7L565.2,360.5L561.5,360.5L559.2,363.5L558.5,367.2L557,371.7L558.5,375.5L561.5,377.7L564.5,377L566,380"/>
<path d="M582.5,333.5L579.5,332L573.5,327.5L572.7,323.7L570.5,321.5L567.5,322.2L564.5,325.2L561.5,327.5L560,321.5L557.7,317L553.2,311L552.3,308.7"/>
<path d="M587.7,313.8L596,319.2"/>
<path d="M517.9,314.3L518.7,314L522.5,309.5L529.2,320L529.2,323.7L527,326.7L524,329L522.5,331.2L524.7,332L528.5,331.2L536.7,328.2L538.2,326L542,326L545.7,325.2L548.7,323.7L552.5,317L551.7,314"/>
<path d="M517.5,341L518,341.7L526.2,347.7L530,354.5L533.7,356L539,357.5L542,360.5L543.5,365L546.5,368.7L547.2,372.5L551.7,380"/>
<path d="M533.7,343.2L537.5,342.5L536.7,345.5L540.5,346.2L544.2,344.7L548,344L551.7,342.5L554.7,344.7L557.7,346.2L560,349.2L559.2,353L557,354.5L552.5,352.2L548,351.5L543.5,350L539,349.2L530.7,350.7L528.5,351.5"/>
<path d="M500,308.7L501.6,313.3"/>
<path d="M511.6,338.9L515,337.2L515.7,338"/>
<path d="M411.9,348L409.2,354.7L409.9,355.2"/>
<path d="M409.9,355.2L412.2,357L416.7,358.5L418.2,361.5L420.5,377.2L420.5,382.5L419.7,387L410,391.5L401,397.5L397.2,399L394.2,396.7L392,393L387.5,390.7L383,390L380,390"/>
<path d="M416.7,358.5L419.7,356.2L423.4,355"/>
<path d="M443.5,351L445.2,348.7L446,345"/>
<path d="M413.7,346.4L417.5,345"/>
<path d="M420.5,377.2L430.2,378.7L434,380.2L437,378.7L437.7,374.2L439.2,372L442.2,373.5L443.7,376.5L447.5,378L454.2,384L458,386.2L461,388.5L461.7,391.5L458,393.7L453.5,395.2L452.7,399L452.7,404.2L453.5,408.7"/>
<path d="M455,383.7L458.7,384.7L461.7,384L469.2,381L472.2,382.5L475.2,380.2L478.2,377.2L487.2,374.2L494,371.2L496.2,372L495.5,375L492.5,378.7L491,383.2L494,385.5L496.2,389.2L499.2,391.5L500,391.5"/>
<path d="M490.2,373.5L487.2,369.7L487.2,365.2L489.5,361.5L494,360L500,359.2"/>
<path d="M453.5,408.7L449,411L426.5,426L422,427.5L416,428.2L410,429.7L405.5,432L403.2,435"/>
<path d="M394.2,396.7L392.7,400.5L393.5,404.2L391.2,406.5L392.7,409.5L404.7,412.5L411.5,414.7L416.7,417L420.5,420.7L422,424.5L422,427.5"/>
<path d="M453.5,408.7L458,410.2L463.2,411L467,412.5L468.5,416.2L471.5,419.2L476,421.5L482,422.2L485.7,420L487.2,417L491,414.7L492.5,417L491.7,419.2"/>
<path d="M337.8,426.3L341,425.5L347.7,424.7L353,426.2L357.5,428.5L362.7,429.2L368,427L370.2,430.7L372.5,436L373.2,441.2L373.2,445.7L377,445.7L381.5,444.2L386,442L398,440.5L401.7,437.5L404.5,433.3"/>
<path d="M315.2,447.9L319.2,453.2L323,457"/>
<path d="M373.2,445.7L370.2,449.5"/>
<path d="M321.9,455.7L324.5,462L326,468.7L330.5,480L329.7,486L326.7,489.7L322.2,493.5L318.5,495.7L320,500.2L322.2,504.7L325.2,509.2L329.7,514.5L334.2,512.2L338,509.2L341.7,508.5L346.2,513L350,511.5L359,507L359.7,504L363.5,501.7L368,498L371.7,494.2L364.2,486.7L366.5,483L365,478.5L362.7,474.7L362,469.5L362.3,464.2L364.2,459.7L365,456L368,453L370.2,450"/>
<path d="M451.8,396.9L453,393.5L455.5,392.7"/>
<path d="M457.3,383.2L453.7,380"/>
<path d="M469.1,418.3L471.7,422.7L474.7,425.7L476.2,428.7L478.5,431.7L479.2,435.5L478.5,439.2L480.7,441.5L489,443L497.2,440L501,437.7L504,439.2L505.5,437.7L500.2,427.2L504.7,422L507.7,413.7L508.5,410"/>
<path d="M475.5,425L477.5,421.6"/>
<path d="M492.3,417.2L498,412.2L504.7,407L508.5,410L513.7,403.2L516.7,401L519,398.7"/>
<path d="M498,392L507.7,395L510,393.5L512.2,395.7L519,398.7L527.2,397.2L530.2,399.5L533.2,401L535.5,398L534.7,394.2L537,390.5L536.2,387.5L540,388.2"/>
<path d="M514.7,356.7L517.7,356L520.7,358.2L523.7,361.2L524.5,365L534.2,371.7L535,374.7L532,376.2L525.2,374.7L522.2,375.5L520,373.2L519.2,370.2L517.7,367.2L515.5,364.2L514,360.5L514.7,356.7"/>
<path d="M550.2,378.2L550.7,380.7L552.2,384.5L551.5,387.5L556,394.2L557.5,397.2L560.5,398L569.5,393.5L573.2,391.2L574.7,387.5L568,377L564.3,376.3"/>
<path d="M551.5,387.5L547.7,386.7L540.2,388.2L537.7,389.2"/>
<path d="M510.2,394.2L508.7,392L503.3,393.1"/>
<path d="M490,369.5L494.1,370.3"/>
<path d="M495.6,374.1L492.2,374.7L490,377"/>
<path d="M524.5,350L527.9,353.1"/>
<path d="M534.6,355.8L535,356L538,353.7L541.7,352.2L545.8,351.7"/>
<path d="M520,207.8L524,208L530,207L534,210L533,216L531,221L530.2,225"/>
</g>
<rect x="125" y="51" width="550.5" height="480" fill="none" stroke="#000" stroke-width="2"/>
<g stroke="#000" stroke-width="1.4" fill="none">
<path d="M125.3,531 V534.6"/>
<path d="M175.3,531 V534.6"/>
<path d="M225.3,531 V534.6"/>
<path d="M275.3,531 V534.6"/>
<path d="M325.3,531 V534.6"/>
<path d="M375.3,531 V534.6"/>
<path d="M425.3,531 V534.6"/>
<path d="M475.3,531 V534.6"/>
<path d="M525.3,531 V534.6"/>
<path d="M575.3,531 V534.6"/>
<path d="M625.3,531 V534.6"/>
<path d="M675.3,531 V534.6"/>
<path d="M121.3,110.7 H125"/>
<path d="M121.3,170.7 H125"/>
<path d="M121.3,230.7 H125"/>
<path d="M121.3,290.7 H125"/>
<path d="M121.3,350.7 H125"/>
<path d="M121.3,410.7 H125"/>
<path d="M121.3,470.7 H125"/>
<path d="M121.3,530.7 H125"/>
</g>
<text class="b" x="118.5" y="115.8" text-anchor="end" textLength="28.6" lengthAdjust="spacingAndGlyphs">43.2N</text>
<text class="b" x="118.5" y="175.7" text-anchor="end" textLength="18.6" lengthAdjust="spacingAndGlyphs">43N</text>
<text class="b" x="118.5" y="235.7" text-anchor="end" textLength="28.6" lengthAdjust="spacingAndGlyphs">42.8N</text>
<text class="b" x="118.5" y="295.6" text-anchor="end" textLength="28.6" lengthAdjust="spacingAndGlyphs">42.6N</text>
<text class="b" x="118.5" y="355.5" text-anchor="end" textLength="28.6" lengthAdjust="spacingAndGlyphs">42.4N</text>
<text class="b" x="118.5" y="415.4" text-anchor="end" textLength="28.6" lengthAdjust="spacingAndGlyphs">42.2N</text>
<text class="b" x="118.5" y="475.4" text-anchor="end" textLength="18.6" lengthAdjust="spacingAndGlyphs">42N</text>
<text class="b" x="118.5" y="535.3" text-anchor="end" textLength="28.6" lengthAdjust="spacingAndGlyphs">41.8N</text>
<text class="b" x="125.3" y="544.8" text-anchor="middle" textLength="27.2" lengthAdjust="spacingAndGlyphs">19.8E</text>
<text class="b" x="175.3" y="544.8" text-anchor="middle" textLength="18.3" lengthAdjust="spacingAndGlyphs">20E</text>
<text class="b" x="225.3" y="544.8" text-anchor="middle" textLength="27.2" lengthAdjust="spacingAndGlyphs">20.2E</text>
<text class="b" x="275.3" y="544.8" text-anchor="middle" textLength="27.2" lengthAdjust="spacingAndGlyphs">20.4E</text>
<text class="b" x="325.3" y="544.8" text-anchor="middle" textLength="27.2" lengthAdjust="spacingAndGlyphs">20.6E</text>
<text class="b" x="375.3" y="544.8" text-anchor="middle" textLength="27.2" lengthAdjust="spacingAndGlyphs">20.8E</text>
<text class="b" x="425.3" y="544.8" text-anchor="middle" textLength="18.3" lengthAdjust="spacingAndGlyphs">21E</text>
<text class="b" x="475.3" y="544.8" text-anchor="middle" textLength="27.2" lengthAdjust="spacingAndGlyphs">21.2E</text>
<text class="b" x="525.3" y="544.8" text-anchor="middle" textLength="27.2" lengthAdjust="spacingAndGlyphs">21.4E</text>
<text class="b" x="575.3" y="544.8" text-anchor="middle" textLength="27.2" lengthAdjust="spacingAndGlyphs">21.6E</text>
<text class="b" x="625.3" y="544.8" text-anchor="middle" textLength="27.2" lengthAdjust="spacingAndGlyphs">21.8E</text>
<text class="b" x="675.3" y="544.8" text-anchor="middle" textLength="18.3" lengthAdjust="spacingAndGlyphs">22E</text>
<text class="t" x="43.6" y="20" textLength="34.8" lengthAdjust="spacingAndGlyphs">ICON</text>
<text class="t" x="91" y="20" textLength="17.4" lengthAdjust="spacingAndGlyphs">EU</text>
<text class="t" x="120" y="20" textLength="54.2" lengthAdjust="spacingAndGlyphs">0.0625</text>
<text class="t" x="185.6" y="20" textLength="52.8" lengthAdjust="spacingAndGlyphs">degree</text>
<text class="t" x="49" y="41.6" textLength="32.6" lengthAdjust="spacingAndGlyphs">10m</text>
<text class="t" x="93" y="41.6" textLength="35.4" lengthAdjust="spacingAndGlyphs">Wind</text>
<text class="t" x="140.4" y="41.6" textLength="47.6" lengthAdjust="spacingAndGlyphs">[m/s]</text>
<text class="t" x="479.3" y="20" textLength="100.3" lengthAdjust="spacingAndGlyphs">Initialisation:</text>
<text class="t" x="591.3" y="20" textLength="96.7" lengthAdjust="spacingAndGlyphs">2026.02.17.</text>
<text class="t" x="700.3" y="20" textLength="16.7" lengthAdjust="spacingAndGlyphs">12</text>
<text class="t" x="728.3" y="20" textLength="29.3" lengthAdjust="spacingAndGlyphs">UTC</text>
<text class="t" x="479.3" y="41.6" textLength="90.7" lengthAdjust="spacingAndGlyphs">Valid(+40):</text>
<text class="t" x="581.3" y="41.6" textLength="105.7" lengthAdjust="spacingAndGlyphs">2026.FEB.19.</text>
<text class="t" x="697.7" y="41.6" textLength="19.3" lengthAdjust="spacingAndGlyphs">04</text>
<text class="t" x="727.7" y="41.6" textLength="29.3" lengthAdjust="spacingAndGlyphs">UTC</text>
<g stroke="#141414" stroke-width="1" stroke-linejoin="miter">
<path d="M747.5,164 L753,136.6 L758.4,164 Z" fill="#e632e6"/>
<rect x="747.5" y="164" width="10.9" height="25.4" fill="#8200ff"/>
<rect x="747.5" y="189.4" width="10.9" height="25.4" fill="#b464fa"/>
<rect x="747.5" y="214.9" width="10.9" height="25.4" fill="#c81e5a"/>
<rect x="747.5" y="240.3" width="10.9" height="25.4" fill="#ff0000"/>
<rect x="747.5" y="265.7" width="10.9" height="25.4" fill="#f06e46"/>
<rect x="747.5" y="291.1" width="10.9" height="25.4" fill="#ffa000"/>
<rect x="747.5" y="316.6" width="10.9" height="25.4" fill="#ffff00"/>
<rect x="747.5" y="342" width="10.9" height="25.4" fill="#50dc96"/>
<rect x="747.5" y="367.4" width="10.9" height="25.4" fill="#96d2fa"/>
<rect x="747.5" y="392.9" width="10.9" height="25.4" fill="#b4f0f0"/>
<path d="M747.5,418.3 L753,444 L758.4,418.3 Z" fill="#fff"/>
</g>
<text class="b" x="760.4" y="168.1" textLength="21.4" lengthAdjust="spacingAndGlyphs" style="font-size:11px">32.6</text>
<text class="b" x="760.4" y="193.5" textLength="21.4" lengthAdjust="spacingAndGlyphs" style="font-size:11px">28.4</text>
<text class="b" x="760.4" y="219" textLength="21.4" lengthAdjust="spacingAndGlyphs" style="font-size:11px">24.4</text>
<text class="b" x="760.4" y="244.4" textLength="21.4" lengthAdjust="spacingAndGlyphs" style="font-size:11px">20.7</text>
<text class="b" x="760.4" y="269.8" textLength="21.4" lengthAdjust="spacingAndGlyphs" style="font-size:11px">17.1</text>
<text class="b" x="760.4" y="295.2" textLength="21.4" lengthAdjust="spacingAndGlyphs" style="font-size:11px">13.8</text>
<text class="b" x="760.4" y="320.7" textLength="21.4" lengthAdjust="spacingAndGlyphs" style="font-size:11px">10.7</text>
<text class="b" x="760.4" y="346.1" textLength="15.6" lengthAdjust="spacingAndGlyphs" style="font-size:11px">7.9</text>
<text class="b" x="760.4" y="371.5" textLength="15.6" lengthAdjust="spacingAndGlyphs" style="font-size:11px">5.4</text>
<text class="b" x="760.4" y="397" textLength="15.6" lengthAdjust="spacingAndGlyphs" style="font-size:11px">3.3</text>
<text class="b" x="760.4" y="422.4" textLength="15.6" lengthAdjust="spacingAndGlyphs" style="font-size:11px">1.6</text>
<text class="b" x="4.4" y="614.8" textLength="64" lengthAdjust="spacingAndGlyphs" style="font-size:10.5px;stroke-width:0.35px">GrADS/COLA</text>
<text class="b" x="676.8" y="614.8" textLength="105.6" lengthAdjust="spacingAndGlyphs" style="font-size:10.5px;stroke-width:0.35px">2026–02–17–16:27</text>
</svg></body></html>
